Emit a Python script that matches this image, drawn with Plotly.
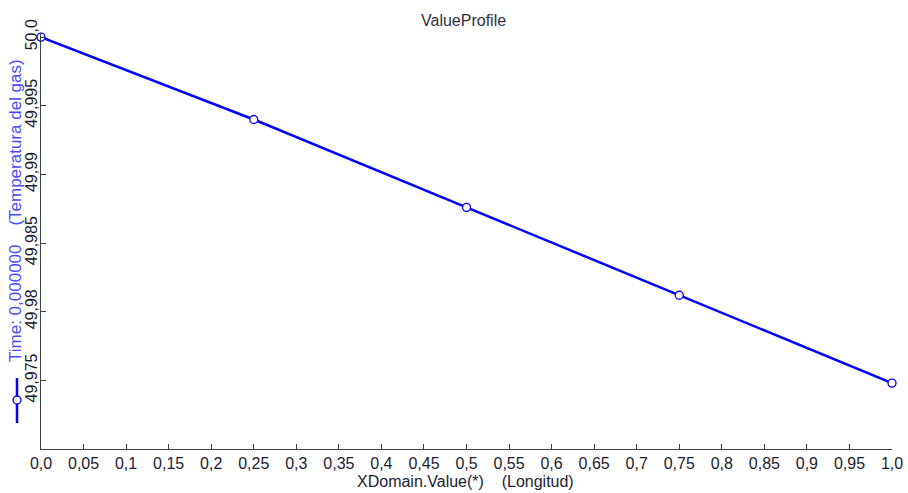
import plotly.graph_objects as go

# Profile data: gas temperature along the domain at t = 0
x_vals = [0.0, 0.25, 0.5, 0.75, 1.0]
temperature = [50.0, 49.9940, 49.9876, 49.9812, 49.9748]

x_tick_vals = [i * 0.05 for i in range(21)]
x_tick_text = ["0,0", "0,05", "0,1", "0,15", "0,2", "0,25", "0,3", "0,35", "0,4", "0,45",
               "0,5", "0,55", "0,6", "0,65", "0,7", "0,75", "0,8", "0,85", "0,9", "0,95", "1,0"]
y_tick_vals = [49.975, 49.98, 49.985, 49.99, 49.995, 50.0]
y_tick_text = ["49,975", "49,98", "49,985", "49,99", "49,995", "50,0"]

BLUE = "#0000ff"
FONT = "Liberation Sans, Arial, sans-serif"
W, H = 908, 493
L, R, T, B = 41, 16, 33, 44

fig = go.Figure()
fig.add_trace(go.Scatter(
    x=x_vals, y=temperature, mode="lines+markers",
    line=dict(color=BLUE, width=2.5),
    marker=dict(symbol="circle", size=8, color="white", line=dict(color=BLUE, width=1.3)),
    cliponaxis=False, showlegend=False,
))

axis_common = dict(
    showgrid=False, zeroline=False, showline=True, linecolor="#404040", linewidth=1.3,
    ticks="inside", ticklen=5, tickwidth=1.3, tickcolor="#404040", automargin=False,
    tickfont=dict(family=FONT, size=16, color="#1c1c30"),
)
fig.update_xaxes(range=[0, 1.0], tickvals=x_tick_vals, ticktext=x_tick_text, **axis_common)
fig.update_yaxes(range=[49.97, 50.0003], tickvals=y_tick_vals, ticktext=y_tick_text,
                 tickangle=-90, ticklabelstandoff=-4, **axis_common)

pw = W - L - R
ph = H - T - B
nb = "\u00a0"
fig.add_annotation(text="ValueProfile", xref="paper", yref="paper",
                   x=(463 - L) / pw, y=1 + (T - 20) / ph, xanchor="center", yanchor="middle",
                   showarrow=False, font=dict(family=FONT, size=16, color="#303040"))
fig.add_annotation(text="XDomain.Value(*)" + nb * 4 + "(Longitud)", xref="paper", yref="paper",
                   x=(465 - L) / pw, y=-(481 - (H - B)) / ph, xanchor="center", yanchor="middle",
                   showarrow=False, font=dict(family=FONT, size=16, color="#1c1c30"))
fig.add_annotation(text="Time: 0,000000" + nb * 4 + "(Temperatura del gas)", xref="paper", yref="paper",
                   x=(15 - L) / pw, y=1 - (211 - T) / ph, xanchor="center", yanchor="middle",
                   textangle=-90, showarrow=False,
                   font=dict(family=FONT, size=17, color="#4a4aff"))

# Legend glyph drawn vertically beside the axis title
gx = (17 - L) / pw
fig.add_shape(type="line", xref="paper", yref="paper",
              x0=gx, x1=gx, y0=1 - (378 - T) / ph, y1=1 - (423 - T) / ph,
              line=dict(color=BLUE, width=2.5))
fig.add_shape(type="circle", xref="paper", yref="paper", xsizemode="pixel", ysizemode="pixel",
              xanchor=gx, yanchor=1 - (400 - T) / ph, x0=-4, x1=4, y0=-4, y1=4,
              fillcolor="white", line=dict(color=BLUE, width=1.3))

fig.update_layout(
    width=W, height=H, margin=dict(l=L, r=R, t=T, b=B),
    paper_bgcolor="white", plot_bgcolor="white",
    font=dict(family=FONT),
)
fig.write_html("out.html")
